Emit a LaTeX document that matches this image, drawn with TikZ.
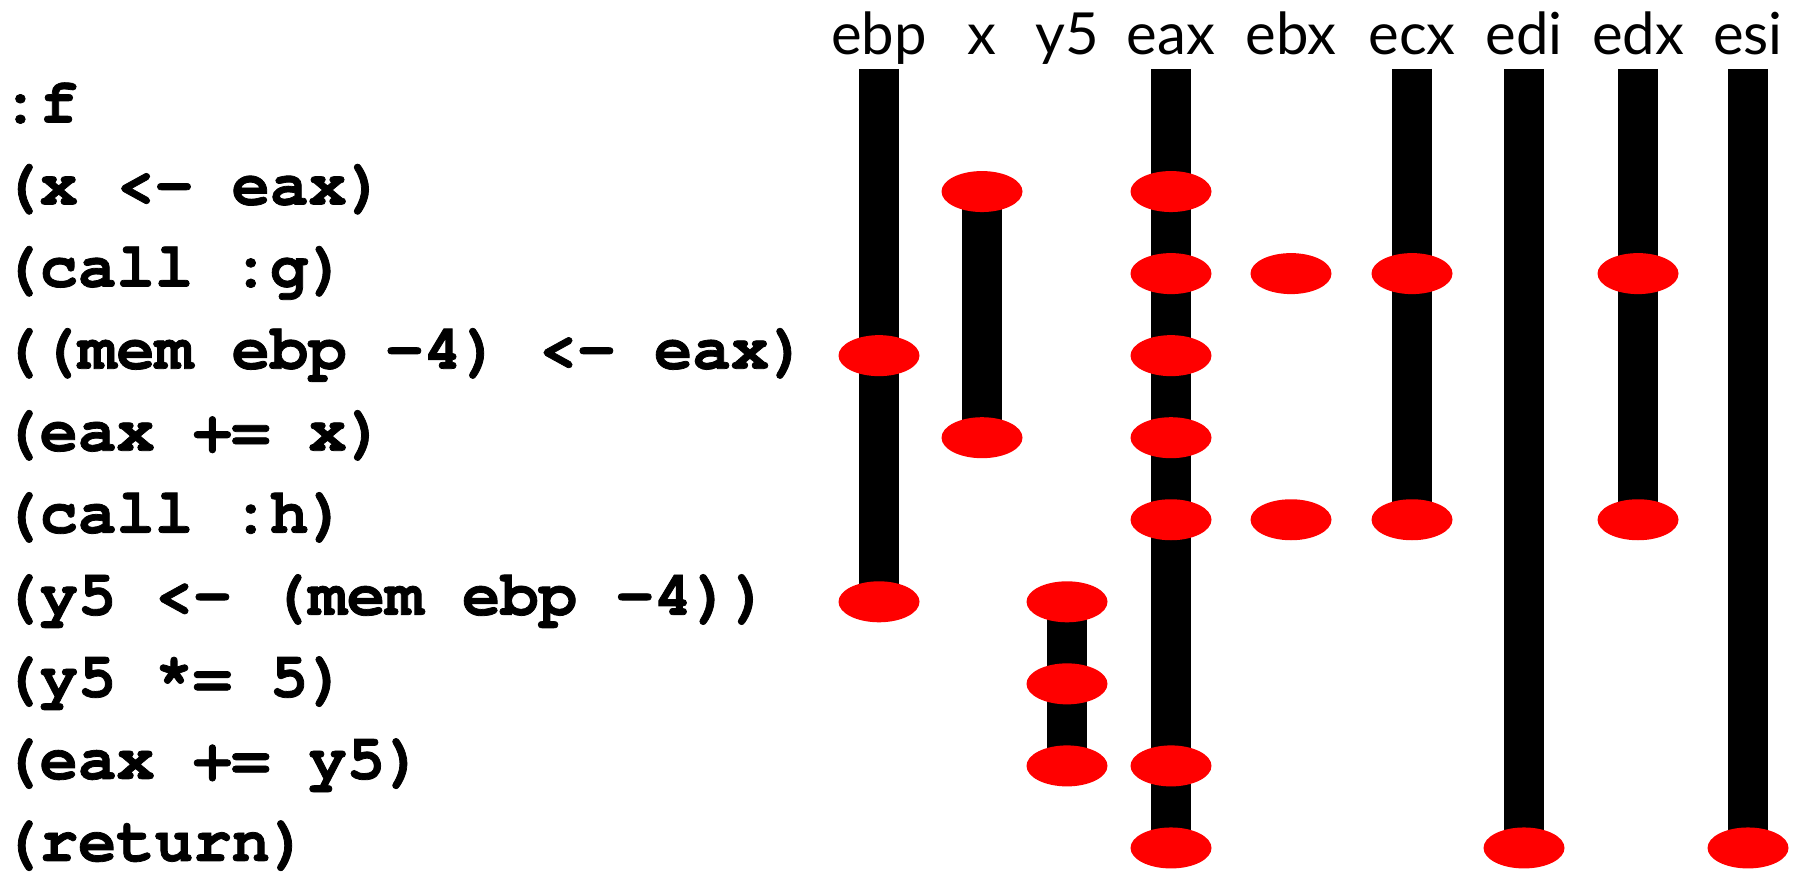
\documentclass[tikz,border=0pt]{standalone}
\usepackage{fontspec}
\setmainfont{Lato}
\newfontfamily\codefont{TeX Gyre Cursor}[BoldFeatures={FakeBold=1.2}]
\usetikzlibrary{shapes.geometric}
\begin{document}
\begin{tikzpicture}[x=1pt,y=-1pt]
\tikzset{
  regbar/.style={line width=40pt, black},
  dot/.style={ellipse, fill=red, minimum width=81pt, minimum height=41pt, inner sep=0pt},
  code/.style={anchor=base west, inner sep=0pt, font=\codefont\bfseries\fontsize{64}{64}\selectfont},
  reglabel/.style={anchor=base, inner sep=0pt, font=\fontsize{58}{58}\selectfont}
}
\useasboundingbox (0,0) rectangle (1801,874);
% register columns: labels and bar tops
\foreach \n/\x in {ebp/879, x/982, y5/1067, eax/1171, ebx/1291, ecx/1412, edi/1524, edx/1638, esi/1748}{
  \coordinate (top-\n) at (\x,69);
  \node[reglabel] (lab-\n) at (\x,55) {\n};
}
% code lines
\foreach \i/\t in {0/{:f}, 1/{(x <- eax)}, 2/{(call :g)}, 3/{((mem ebp -4) <- eax)}, 4/{(eax += x)}, 5/{(call :h)}, 6/{(y5 <- (mem ebp -4))}, 7/{(y5 *= 5)}, 8/{(eax += y5)}, 9/{(return)}}{
  \node[code] (line-\i) at (1,{109.5+82.05*\i+13}) {\t};
}
% dot positions
\foreach \n/\x/\i in {x/982/1, eax/1171/1,
  eax/1171/2, ebx/1291/2, ecx/1412/2, edx/1638/2,
  ebp/879/3, eax/1171/3,
  x/982/4, eax/1171/4,
  eax/1171/5, ebx/1291/5, ecx/1412/5, edx/1638/5,
  ebp/879/6, y5/1067/6,
  y5/1067/7,
  y5/1067/8, eax/1171/8,
  eax/1171/9, edi/1524/9, esi/1748/9}{
  \coordinate (d-\n-\i) at (\x,{109.5+82.05*\i});
}
% live ranges
\draw[regbar] (top-ebp) -- (d-ebp-6);
\draw[regbar] (d-x-1) -- (d-x-4);
\draw[regbar] (d-y5-6) -- (d-y5-8);
\draw[regbar] (top-eax) -- (d-eax-9);
\draw[regbar] (top-ecx) -- (d-ecx-5);
\draw[regbar] (top-edi) -- (d-edi-9);
\draw[regbar] (top-edx) -- (d-edx-5);
\draw[regbar] (top-esi) -- (d-esi-9);
% dots
\foreach \n/\i in {x/1, eax/1, eax/2, ebx/2, ecx/2, edx/2, ebp/3, eax/3, x/4, eax/4,
  eax/5, ebx/5, ecx/5, edx/5, ebp/6, y5/6, y5/7, y5/8, eax/8, eax/9, edi/9, esi/9}{
  \node[dot] (e-\n-\i) at (d-\n-\i) {};
}
\end{tikzpicture}
\end{document}
